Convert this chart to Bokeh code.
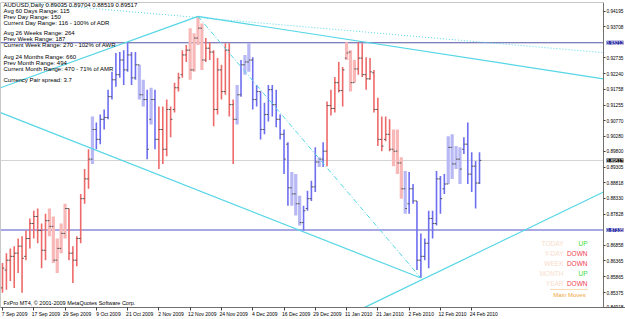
from bokeh.plotting import figure
from bokeh.models import (Range1d, FixedTicker, CustomJSTickFormatter, Label,
                          ColumnDataSource, LinearAxis)
from bokeh.embed import file_html
from bokeh.resources import INLINE

# ---------------- data (AUDUSD daily) ----------------
date_labels = ["7 Sep 2009", "17 Sep 2009", "29 Sep 2009", "9 Oct 2009", "21 Oct 2009",
               "2 Nov 2009", "12 Nov 2009", "24 Nov 2009", "4 Dec 2009", "16 Dec 2009",
               "29 Dec 2009", "11 Jan 2010", "21 Jan 2010", "2 Feb 2010", "12 Feb 2010",
               "24 Feb 2010"]
date_label_bar = [0, 8, 16, 24, 32, 40, 48, 56, 64, 72, 80, 88, 96, 104, 112, 120]

high = [0.8630, 0.8661, 0.8676, 0.8683, 0.8707, 0.8714, 0.8732, 0.8770, 0.8794, 0.8801,
        0.8754, 0.8785, 0.8801, 0.8776, 0.8707, 0.8754, 0.8816, 0.8801, 0.8683, 0.8714,
        0.8847, 0.8925, 0.8987, 0.9090, 0.9071, 0.9096, 0.9112, 0.9174, 0.9230, 0.9289,
        0.9292, 0.9298, 0.9323, 0.9292, 0.9292, 0.9252, 0.9205, 0.9174, 0.9180, 0.9174,
        0.9121, 0.9121, 0.9143, 0.9121, 0.9196, 0.9227, 0.9298, 0.9314, 0.9367, 0.9351,
        0.9404, 0.9382, 0.9336, 0.9323, 0.9298, 0.9273, 0.9252, 0.9320, 0.9320, 0.9143,
        0.9189, 0.9267, 0.9283, 0.9320, 0.9276, 0.9189, 0.9168, 0.9133, 0.9189, 0.9189,
        0.9174, 0.9096, 0.9049, 0.9009, 0.8916, 0.8909, 0.8841, 0.8810, 0.8857, 0.8888,
        0.8993, 0.8962, 0.9009, 0.9137, 0.9174, 0.9214, 0.9261, 0.9245, 0.9323, 0.9298,
        0.9267, 0.9323, 0.9320, 0.9276, 0.9273, 0.9236, 0.9149, 0.9090, 0.9090, 0.9081,
        0.9049, 0.9049, 0.8962, 0.8919, 0.8916, 0.8878, 0.8825, 0.8723, 0.8707, 0.8794,
        0.8794, 0.8919, 0.8903, 0.8909, 0.9028, 0.9034, 0.8997, 0.8993, 0.9025, 0.9071,
        0.8978, 0.8950, 0.8978]
low = [0.8537, 0.8546, 0.8574, 0.8552, 0.8599, 0.8537, 0.8639, 0.8676, 0.8707, 0.8692,
       0.8614, 0.8639, 0.8714, 0.8630, 0.8599, 0.8661, 0.8707, 0.8639, 0.8567, 0.8620,
       0.8692, 0.8816, 0.8863, 0.8941, 0.8987, 0.9003, 0.9049, 0.9081, 0.9143, 0.9183,
       0.9211, 0.9189, 0.9230, 0.9189, 0.9205, 0.9143, 0.9121, 0.8956, 0.9065, 0.8987,
       0.8925, 0.8941, 0.8965, 0.9025, 0.9102, 0.9168, 0.9211, 0.9261, 0.9205, 0.9230,
       0.9314, 0.9236, 0.9261, 0.9267, 0.9059, 0.9096, 0.9143, 0.9158, 0.9090, 0.8941,
       0.9065, 0.9152, 0.9221, 0.9230, 0.9112, 0.9121, 0.9018, 0.9034, 0.9074, 0.9090,
       0.9056, 0.9018, 0.8909, 0.8810, 0.8810, 0.8779, 0.8748, 0.8732, 0.8794, 0.8825,
       0.8853, 0.8931, 0.8931, 0.8934, 0.9093, 0.9102, 0.9165, 0.9121, 0.9267, 0.9168,
       0.9196, 0.9221, 0.9214, 0.9174, 0.9205, 0.9102, 0.8997, 0.8981, 0.9012, 0.8981,
       0.8934, 0.8909, 0.8832, 0.8785, 0.8785, 0.8816, 0.8608, 0.8583, 0.8639, 0.8614,
       0.8707, 0.8748, 0.8785, 0.8847, 0.8878, 0.8894, 0.8925, 0.8878, 0.8972, 0.8878,
       0.8853, 0.8801, 0.8878]
open_ = [0.8552, 0.8608, 0.8639, 0.8651, 0.8661, 0.8683, 0.8651, 0.8707, 0.8754, 0.8776,
         0.8732, 0.8670, 0.8763, 0.8745, 0.8639, 0.8676, 0.8723, 0.8801, 0.8661, 0.8639,
         0.8707, 0.8832, 0.8894, 0.8956, 0.9049, 0.9018, 0.9081, 0.9087, 0.9152, 0.9205,
         0.9221, 0.9267, 0.9236, 0.9283, 0.9211, 0.9252, 0.9158, 0.9143, 0.9081, 0.9143,
         0.9018, 0.9049, 0.8987, 0.9112, 0.9112, 0.9180, 0.9221, 0.9283, 0.9298, 0.9236,
         0.9336, 0.9367, 0.9267, 0.9304, 0.9292, 0.9112, 0.9236, 0.9168, 0.9298, 0.9127,
         0.9081, 0.9158, 0.9252, 0.9261, 0.9267, 0.9143, 0.9168, 0.9049, 0.9096, 0.9174,
         0.9127, 0.9081, 0.9034, 0.9003, 0.8866, 0.8847, 0.8816, 0.8757, 0.8801, 0.8832,
         0.8869, 0.8947, 0.8956, 0.8981, 0.9124, 0.9115, 0.9196, 0.9171, 0.9273, 0.9292,
         0.9196, 0.9239, 0.9273, 0.9221, 0.9208, 0.9227, 0.9112, 0.9018, 0.9018, 0.9034,
         0.8987, 0.8981, 0.8944, 0.8863, 0.8816, 0.8863, 0.8825, 0.8639, 0.8651, 0.8692,
         0.8770, 0.8754, 0.8894, 0.8863, 0.8878, 0.8993, 0.8941, 0.8956, 0.8987, 0.9003,
         0.8909, 0.8934, 0.8881]
close = [0.8614, 0.8639, 0.8651, 0.8661, 0.8683, 0.8645, 0.8707, 0.8754, 0.8776, 0.8732,
         0.8670, 0.8763, 0.8745, 0.8639, 0.8676, 0.8723, 0.8801, 0.8661, 0.8639, 0.8707,
         0.8832, 0.8894, 0.8956, 0.9049, 0.9018, 0.9081, 0.9087, 0.9152, 0.9205, 0.9221,
         0.9267, 0.9236, 0.9283, 0.9211, 0.9252, 0.9158, 0.9143, 0.8987, 0.9143, 0.9018,
         0.9049, 0.8987, 0.9112, 0.9081, 0.9180, 0.9211, 0.9283, 0.9298, 0.9236, 0.9336,
         0.9367, 0.9267, 0.9304, 0.9292, 0.9112, 0.9236, 0.9168, 0.9298, 0.9127, 0.9081,
         0.9158, 0.9252, 0.9261, 0.9267, 0.9143, 0.9168, 0.9049, 0.9096, 0.9174, 0.9127,
         0.9081, 0.9034, 0.8956, 0.8866, 0.8847, 0.8816, 0.8757, 0.8794, 0.8832, 0.8869,
         0.8947, 0.8956, 0.8981, 0.9124, 0.9115, 0.9196, 0.9171, 0.9236, 0.9289, 0.9196,
         0.9239, 0.9273, 0.9221, 0.9208, 0.9230, 0.9112, 0.9018, 0.8997, 0.9034, 0.8987,
         0.8981, 0.8944, 0.8863, 0.8801, 0.8863, 0.8825, 0.8639, 0.8651, 0.8692, 0.8770,
         0.8754, 0.8894, 0.8832, 0.8878, 0.8993, 0.8941, 0.8956, 0.8925, 0.9003, 0.8909,
         0.8934, 0.8881, 0.8952]
# bar colouring state: r=down trend, R=light down, b=up trend, B=light up
trend = ("rrrrrrrrrrrr" + "RRRRR" + "rrrrrr" + "B" + "bbbbbbbbbbb" + "BB" + "b" + "B" + "b"
         + "rrrrrrrr" + "RRRR" + "rrrrrrrr" + "B" + "b" + "BB" + "bbbbbbbbb"
         + "b" + "BBB" + "bbbb" + "B" + "b"
         + "rrrrr" + "RRR" + "rrrrrrrrr" + "RRR"
         + "B" + "bbbbbbbbbb" + "BBBB" + "bbbbb")

price_ticks = [0.94195, 0.93708, 0.92735, 0.92240, 0.91758, 0.91255, 0.90770, 0.90280,
               0.89800, 0.89305, 0.88818, 0.88330, 0.87828, 0.86858, 0.86365, 0.85865,
               0.85375, 0.84918]
level_high = 0.93212
level_low = 0.87335
bid = 0.89517

# trend lines: (bar, price) anchor points
tl_up_x, tl_up_y = [-0.5, 50], [0.9180, 0.9404]
tl_down_x, tl_down_y = [50, 153.7], [0.9404, 0.9208]
tl_dot_x, tl_dot_y = [-0.5, 153.7], [0.9454, 0.9290]
tl_dd_x, tl_dd_y = [50, 107], [0.9404, 0.8583]
tl_low_x, tl_low_y = [-0.5, 107], [0.9102, 0.8583]
tl_rise_x, tl_rise_y = [92.5, 153.7], [0.8490, 0.8853]

info_lines = ["AUDUSD,Daily  0.89035 0.89704 0.88519 0.89517",
              "Avg 60 Days Range: 115", "Prev Day Range: 150",
              "Current Day Range: 116 - 100% of ADR",
              "Avg 26 Weeks Range: 264", "Prev Week Range: 187",
              "Current Week Range: 270 - 102% of AWR",
              "Avg 24 Months Range: 660", "Prev Month Range: 494",
              "Current Month Range: 470 - 71% of AMR",
              "Currency Pair spread: 3.7"]
moves_names = ["TODAY", "Y-DAY", "WEEK", "MONTH", "YEAR"]
moves_dirs = ["UP", "DOWN", "DOWN", "UP", "DOWN"]

# ---------------- layout helpers ----------------
BAR_PX = 3.91
CHART_W = 603      # pixel position of the price scale line
Y0, Y1 = 0.84905, 0.94475


def xd(px):
    return (px - 2) / BAR_PX


def yd(py):
    return 0.94537 - 0.000311 * py


FONT = "Liberation Sans"
SCALE_FS = "4.7px"
X_EDGE = xd(CHART_W)

p = figure(width=625, height=319, output_backend="svg", toolbar_location=None,
           x_range=Range1d(xd(0), xd(625)), y_range=Range1d(Y0, Y1),
           y_axis_location=None, min_border_left=0, min_border_right=0,
           min_border_top=2, min_border_bottom=0)
p.background_fill_color = "white"
p.border_fill_color = "white"
p.outline_line_color = None
p.xgrid.visible = False
p.ygrid.visible = False

# x axis
xa = p.xaxis[0]
lab_pos = [b + 3.1 for b in date_label_bar]
xa.ticker = FixedTicker(ticks=lab_pos, minor_ticks=date_label_bar)
xa.formatter = CustomJSTickFormatter(args=dict(labels=date_labels),
                                     code="const k = Math.round((tick - 3.1) / 8); return labels[k] || '';")
xa.major_tick_out = 0
xa.major_tick_in = 0
xa.minor_tick_out = 3
xa.minor_tick_in = 0
xa.minor_tick_line_color = "#404040"
xa.major_label_standoff = 0
xa.major_label_text_font_size = "5px"
xa.major_label_text_font = FONT
xa.major_label_text_color = "black"
xa.axis_line_color = "#707070"

# price scale, pinned at the right edge of the chart area
ya = LinearAxis(fixed_location=X_EDGE)
ya.ticker = FixedTicker(ticks=price_ticks)
ya.formatter = CustomJSTickFormatter(code="return tick.toFixed(5);")
ya.major_tick_out = 2
ya.major_tick_in = 0
ya.minor_tick_out = 0
ya.minor_tick_in = 0
ya.major_label_standoff = 1
ya.major_label_text_font_size = SCALE_FS
ya.major_label_text_font = FONT
ya.major_label_text_color = "black"
ya.axis_line_color = "#707070"
ya.major_tick_line_color = "#404040"
p.add_layout(ya, "right")

# chart window border (top and left)
p.line([xd(0), X_EDGE], [Y1, Y1], line_color="#909090", line_width=1)
p.line([xd(0), xd(0)], [Y0, Y1], line_color="#909090", line_width=1)

# horizontal levels
p.line([xd(0), X_EDGE], [bid, bid], line_color="#d4d4d4", line_width=1)
p.line([xd(0), X_EDGE], [level_high, level_high], line_color="#5656a6", line_width=1)
p.line([xd(0), X_EDGE], [level_low, level_low], line_color="#a8a8e2", line_width=2)

# bars
colmap = {"r": "#ee6a6a", "R": "#f8b8b8", "b": "#6e6ef0", "B": "#b8b8f4"}
widthmap = {"r": 1.6, "R": 3.2, "b": 1.6, "B": 3.2}
xs = list(range(len(high)))
src = ColumnDataSource(dict(
    x=xs, high=high, low=low, open=open_, close=close,
    xl=[x - 0.45 for x in xs], xr=[x + 0.45 for x in xs],
    color=[colmap[t] for t in trend], w=[widthmap[t] for t in trend]))
p.segment(x0="x", y0="low", x1="x", y1="high", line_color="color", line_width="w", source=src)
p.segment(x0="xl", y0="open", x1="x", y1="open", line_color="#555555", line_width=1, source=src)
p.segment(x0="x", y0="close", x1="xr", y1="close", line_color="#555555", line_width=1, source=src)

# trend lines
CY = "#56d6e6"
p.line(tl_up_x, tl_up_y, line_color=CY, line_width=1.2)
p.line(tl_down_x, tl_down_y, line_color=CY, line_width=1.2)
p.line(tl_dot_x, tl_dot_y, line_color=CY, line_width=1, line_dash="1 2")
p.line(tl_dd_x, tl_dd_y, line_color=CY, line_width=1, line_dash="5 2 1 2")
p.line(tl_low_x, tl_low_y, line_color=CY, line_width=1.2)
p.line(tl_rise_x, tl_rise_y, line_color=CY, line_width=1.2)

# price highlight labels on the scale
for val, bg in [(level_high, "#1e1e9c"), (bid, "#000000"), (level_low, "#1e1e9c")]:
    p.add_layout(Label(x=CHART_W + 3, y=val, x_units="screen", text=f"{val:.5f}",
                       text_color="white", text_font=FONT, text_font_size=SCALE_FS,
                       text_baseline="middle", text_align="left",
                       background_fill_color=bg, background_fill_alpha=1.0))

# info text block
info_y = [5, 11, 17, 23, 33, 39, 45, 57, 63, 69, 80]
for t, py in zip(info_lines, info_y):
    p.add_layout(Label(x=3, y=yd(py), x_units="screen", text=t, text_color="black",
                       text_font=FONT, text_font_size="6px", text_baseline="middle"))

p.add_layout(Label(x=3, y=yd(305.5), x_units="screen",
                   text="FxPro MT4, \u00a9 2001-2009 MetaQuotes Software Corp.",
                   text_color="black", text_font=FONT, text_font_size="5.5px",
                   text_baseline="middle"))

# main moves panel
for k, (nm, d) in enumerate(zip(moves_names, moves_dirs)):
    py = 245.5 + 10 * k
    p.add_layout(Label(x=563, y=yd(py), x_units="screen", text=nm, text_color="#f8dccb",
                       text_font=FONT, text_font_size="6.5px", text_align="right",
                       text_baseline="middle"))
    p.add_layout(Label(x=587, y=yd(py), x_units="screen", text=d,
                       text_color="#3cdc3c" if d == "UP" else "#f04050",
                       text_font=FONT, text_font_size="6.5px", text_align="right",
                       text_baseline="middle"))
p.segment(x0=[xd(550)], y0=[yd(291.5)], x1=[xd(588)], y1=[yd(291.5)],
          line_color="#f0b060", line_width=1, line_dash="1 1")
p.add_layout(Label(x=569, y=yd(297), x_units="screen", text="Main Moves", text_color="#f0a63c",
                   text_font=FONT, text_font_size="6px", text_align="center",
                   text_baseline="middle"))

open("out.html", "w").write(file_html(p, INLINE))
